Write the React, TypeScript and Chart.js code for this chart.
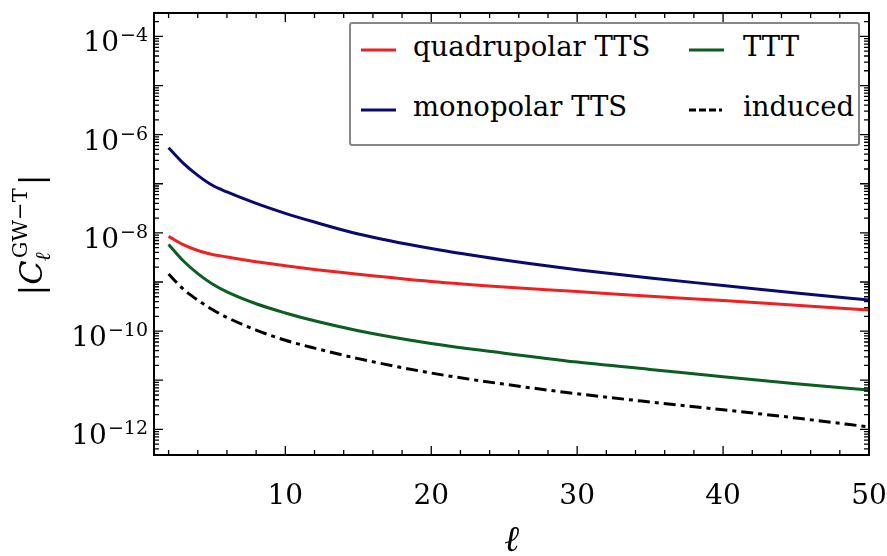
import React, { useEffect, useRef } from "react";
import { Chart, registerables } from "chart.js";
Chart.register(...registerables);

// ---- data ----
const ells = [2, 3, 4, 5, 6, 8, 10, 12, 15, 20, 25, 30, 35, 40, 45, 50];
const quadrupolarTTS = [8.5e-9, 5.75e-9, 4.37e-9, 3.63e-9, 3.24e-9, 2.57e-9, 2.14e-9, 1.8e-9, 1.43e-9, 1.02e-9, 7.9e-10, 6.4e-10, 5.1e-10, 4.2e-10, 3.35e-10, 2.7e-10];
const monopolarTTS = [5.4e-7, 2.63e-7, 1.48e-7, 9.3e-8, 6.8e-8, 3.98e-8, 2.5e-8, 1.66e-8, 9.5e-9, 4.8e-9, 2.8e-9, 1.78e-9, 1.2e-9, 8.5e-10, 6.0e-10, 4.3e-10];
const TTT = [5.8e-9, 2.7e-9, 1.48e-9, 9.1e-10, 6.3e-10, 3.6e-10, 2.34e-10, 1.62e-10, 1.02e-10, 5.6e-11, 3.55e-11, 2.34e-11, 1.66e-11, 1.17e-11, 8.5e-12, 6.3e-12];
const induced = [1.45e-9, 7.2e-10, 4.27e-10, 2.75e-10, 1.9e-10, 1.05e-10, 6.5e-11, 4.5e-11, 2.75e-11, 1.4e-11, 8.3e-12, 5.3e-12, 3.6e-12, 2.5e-12, 1.7e-12, 1.12e-12];

const seriesNames = ["quadrupolar TTS", "monopolar TTS", "TTT", "induced"];
const seriesValues = [quadrupolarTTS, monopolarTTS, TTT, induced];
const seriesColors = ["#f02020", "#0a0a6e", "#0b5e1f", "#000000"];
const seriesDashes: number[][] = [[], [], [], [12, 5, 4, 5]];
// legend order in reference: row1: quadrupolar, TTT ; row2: monopolar, induced
const legendGrid = [[0, 2], [1, 3]];

const xLabelValues = [10, 20, 30, 40, 50];
const xMinorStep = 2;
const yLabelExponents = [-4, -6, -8, -10, -12];
const xMin = 1, xMax = 50;
const yMin = 3.2e-13, yMax = 3.0e-4;

const FONT = "'DejaVu Serif', 'Liberation Serif', 'Noto Serif', serif";

const framePlugin = {
  id: "frame",
  afterDraw(chart: any) {
    const { ctx, chartArea: a, scales } = chart;
    const xs = scales.x, ys = scales.y;
    ctx.save();
    ctx.strokeStyle = "#000";
    ctx.lineWidth = 1.3;
    ctx.beginPath();
    xs.ticks.forEach((t: any) => {
      const px = xs.getPixelForValue(t.value);
      const len = xLabelValues.includes(t.value) ? 9 : 5;
      ctx.moveTo(px, a.bottom); ctx.lineTo(px, a.bottom - len);
      ctx.moveTo(px, a.top); ctx.lineTo(px, a.top + len);
    });
    ys.ticks.forEach((t: any) => {
      const py = ys.getPixelForValue(t.value);
      if (py < a.top || py > a.bottom) return;
      const len = t.major ? 9 : 5;
      ctx.moveTo(a.left, py); ctx.lineTo(a.left + len, py);
      ctx.moveTo(a.right, py); ctx.lineTo(a.right - len, py);
    });
    ctx.stroke();
    ctx.lineWidth = 2;
    ctx.strokeRect(a.left, a.top, a.right - a.left, a.bottom - a.top);

    // y tick labels with superscripts
    ctx.fillStyle = "#000";
    ctx.textBaseline = "alphabetic";
    yLabelExponents.forEach((e) => {
      const py = ys.getPixelForValue(Math.pow(10, e));
      ctx.font = `28px ${FONT}`;
      const base = "10";
      const wb = ctx.measureText(base).width;
      ctx.font = `19px ${FONT}`;
      const ex = "\u2212" + String(-e);
      const we = ctx.measureText(ex).width;
      const right = a.left - 6;
      ctx.textAlign = "left";
      ctx.fillText(ex, right - we, py + 5);
      ctx.font = `28px ${FONT}`;
      ctx.fillText(base, right - we - wb - 1, py + 15);
    });

    // y axis title |C_ℓ^{GW−T}|
    ctx.save();
    const cy = (a.top + a.bottom) / 2 + 1;
    ctx.translate(42, cy);
    ctx.rotate(-Math.PI / 2);
    const fMain = `32px ${FONT}`;
    const fMainI = `italic 32px ${FONT}`;
    const fSmall = `21px ${FONT}`;
    const fSmallI = `italic 21px ${FONT}`;
    ctx.font = fMain; const wBar = ctx.measureText("|").width;
    ctx.font = fMainI; const wC = ctx.measureText("C").width;
    ctx.font = fSmall; const wSup = ctx.measureText("GW\u2212T").width;
    ctx.font = fSmallI; const wSub = ctx.measureText("\u2113").width;
    const total = wBar + wC + 2 + Math.max(wSup, wSub) + 3 + wBar;
    let x = -total / 2;
    ctx.textAlign = "left";
    ctx.font = fMain; ctx.fillText("|", x, 0); x += wBar;
    ctx.font = fMainI; ctx.fillText("C", x, 0); x += wC + 2;
    ctx.font = fSmall; ctx.fillText("GW\u2212T", x, -15);
    ctx.font = fSmallI; ctx.fillText("\u2113", x - 3, 8);
    x += Math.max(wSup, wSub) + 3;
    ctx.font = fMain; ctx.fillText("|", x, 0);
    ctx.restore();

    ctx.restore();
  },
};

export default function App() {
  const ref = useRef<HTMLCanvasElement>(null);
  useEffect(() => {
    document.body.style.margin = "0";
    const datasets = seriesNames.map((name, i) => ({
      label: name,
      data: ells.map((l, j) => ({ x: l, y: seriesValues[i][j] })),
      borderColor: seriesColors[i],
      backgroundColor: seriesColors[i],
      borderWidth: 3,
      borderDash: seriesDashes[i],
      pointRadius: 0,
      fill: false,
      cubicInterpolationMode: "monotone" as const,
    }));
    const chart = new Chart(ref.current!, {
      type: "line",
      data: { datasets },
      options: {
        animation: false,
        responsive: false,
        layout: { padding: { left: 0, top: 13, right: 18, bottom: 0 } },
        plugins: { legend: { display: false }, tooltip: { enabled: false } },
        scales: {
          x: {
            type: "linear",
            min: xMin,
            max: xMax,
            grid: { display: false, drawTicks: false },
            border: { display: false },
            afterBuildTicks: (s: any) => {
              const t = [];
              for (let v = xMinorStep; v <= xMax; v += xMinorStep) t.push({ value: v });
              s.ticks = t;
            },
            afterFit: (s: any) => {
              s.height = 101;
              s.paddingLeft = 0;
              s.paddingRight = 0;
            },
            ticks: {
              autoSkip: false,
              maxRotation: 0,
              padding: 25,
              color: "#000",
              font: { family: FONT, size: 28 },
              callback: (v: any) => (xLabelValues.includes(Number(v)) ? String(v) : ""),
            },
            title: {
              display: true,
              text: "\u2113",
              color: "#000",
              font: { family: FONT, size: 36, style: "italic", lineHeight: 1 },
              padding: { top: 0, bottom: -4 },
            },
          },
          y: {
            type: "logarithmic",
            min: yMin,
            max: yMax,
            grid: { display: false, drawTicks: false },
            border: { display: false },
            afterBuildTicks: (s: any) => {
              const t = [];
              for (let e = -13; e <= -4; e++) {
                for (let k = 1; k <= 9; k++) {
                  const v = k * Math.pow(10, e);
                  if (v >= yMin && v <= yMax) t.push({ value: v, major: k === 1 });
                }
              }
              s.ticks = t;
            },
            afterFit: (s: any) => { s.width = 154; },
            ticks: { display: false },
          },
        },
      },
      plugins: [framePlugin],
    });
    return () => chart.destroy();
  }, []);

  const boxLeft = 349, boxTop = 22;
  const colX = [361, 689];
  const rowY = [50, 110];
  const textX = [413, 743];

  return (
    <div style={{ position: "relative", width: 887, height: 556, background: "#fff", overflow: "hidden" }}>
      <canvas ref={ref} width={887} height={556} style={{ display: "block" }} />
      <div
        style={{
          position: "absolute",
          left: boxLeft,
          top: boxTop,
          width: 511,
          height: 124,
          boxSizing: "border-box",
          border: "2px solid #878787",
          borderRadius: 3,
          background: "#fff",
        }}
      />
      {legendGrid.map((row, r) =>
        row.map((si, c) => (
          <div key={`${r}-${c}`}>
            <svg
              style={{ position: "absolute", left: colX[c], top: rowY[r] - 3 }}
              width={35}
              height={6}
            >
              <line
                x1={0}
                y1={3}
                x2={35}
                y2={3}
                stroke={seriesColors[si]}
                strokeWidth={3}
                strokeDasharray={si === 3 ? "7,3,7,3,7,3,3,3" : undefined}
              />
            </svg>
            <div
              style={{
                position: "absolute",
                left: textX[c],
                top: rowY[r] - 21,
                height: 34,
                lineHeight: "34px",
                fontFamily: FONT,
                fontSize: 27.5,
                color: "#000",
                whiteSpace: "nowrap",
              }}
            >
              {seriesNames[si]}
            </div>
          </div>
        ))
      )}
    </div>
  );
}
